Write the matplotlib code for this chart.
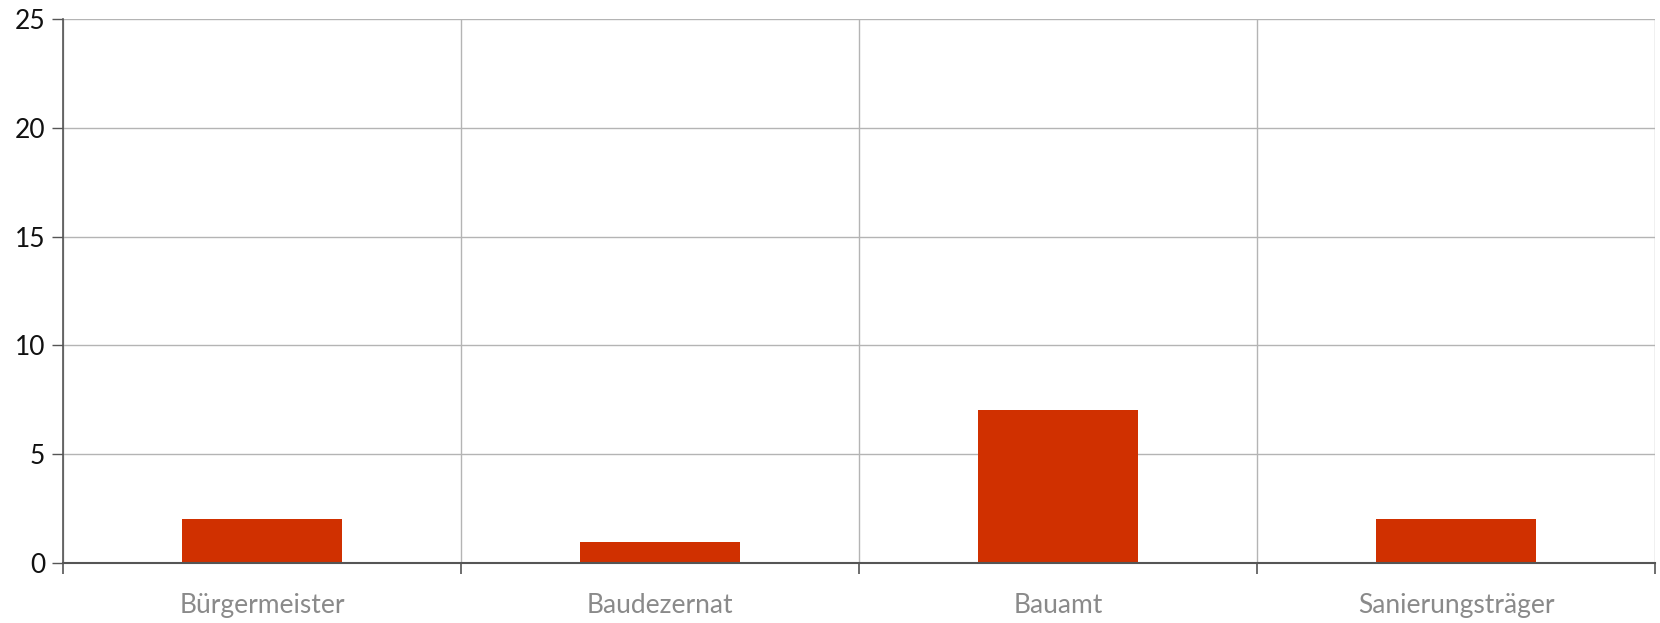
import matplotlib.pyplot as plt
import numpy as np

# Werte aus dem Diagramm
categories = ['Bürgermeister', 'Baudezernat', 'Bauamt', 'Sanierungsträger']
values = [2, 0.95, 7, 2]
yticks = [0, 5, 10, 15, 20, 25]

bar_color = '#d03000'
grid_color = '#b4b4b4'
axis_color = '#555555'

fig = plt.figure(figsize=(16.6, 6.23), dpi=100)
ax = fig.add_axes([0.038, 0.097, 0.959, 0.872])

x = np.arange(len(categories))
ax.bar(x, values, width=0.4, color=bar_color, zorder=3)

ax.set_xlim(-0.5, len(categories) - 0.5)
ax.set_ylim(0, 25)

# Rasterlinien
ax.set_yticks(yticks)
ax.set_yticklabels([str(t) for t in yticks], fontsize=19, color='#111111',
                   family=['Lato', 'DejaVu Sans'])
ax.yaxis.grid(True, color=grid_color, linewidth=1, zorder=0)

# Kategoriegrenzen als Major-Ticks, Beschriftungen als Minor-Ticks
bounds = np.arange(-0.5, len(categories) + 0.5, 1)
ax.set_xticks(bounds)
ax.set_xticklabels([])
ax.set_xticks(x, minor=True)
ax.set_xticklabels(categories, minor=True, fontsize=19, color='#8a8a8a',
                   family=['Lato', 'DejaVu Sans'])
ax.tick_params(axis='x', which='minor', length=0, pad=22)
ax.tick_params(axis='x', which='major', length=8, width=1.2, color=axis_color, direction='out')
ax.tick_params(axis='y', length=8, width=1, color=axis_color, direction='out', pad=5)
ax.xaxis.grid(True, which='major', color=grid_color, linewidth=1, zorder=0)

for s in ['top', 'right']:
    ax.spines[s].set_visible(False)
ax.spines['left'].set_color(axis_color)
ax.spines['bottom'].set_color(axis_color)
ax.spines['left'].set_linewidth(1.2)
ax.spines['bottom'].set_linewidth(1.5)
ax.spines['left'].set_zorder(4)
ax.spines['bottom'].set_zorder(4)

fig.savefig('out.png', dpi=100)
